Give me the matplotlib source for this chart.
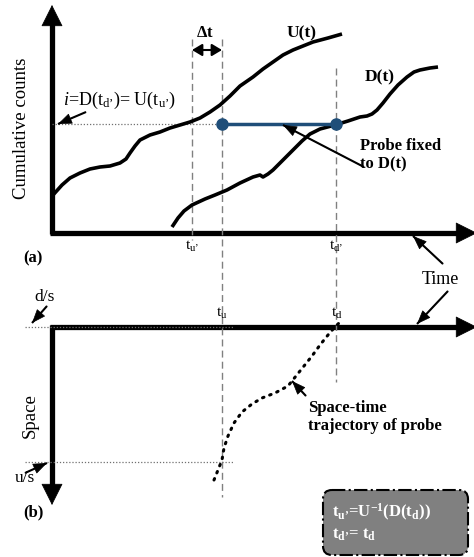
import matplotlib.pyplot as plt
from matplotlib.patches import FancyBboxPatch

plt.rcParams['font.family'] = ['Liberation Serif', 'DejaVu Serif']
plt.rcParams['mathtext.fontset'] = 'custom'
plt.rcParams['mathtext.rm'] = 'Liberation Serif'
plt.rcParams['mathtext.it'] = 'Liberation Serif:italic'
plt.rcParams['mathtext.bf'] = 'Liberation Serif:bold'

# curves (pixel coords, y down)
u_x = [53, 62, 70, 80, 90, 100, 110, 120, 126, 130, 135, 140, 150, 160, 170, 180, 190,
       200, 210, 220, 230, 240, 253, 263, 273, 283, 293, 303, 313, 328, 342]
u_y = [195, 185, 178, 173, 169, 167, 166, 163, 159, 153, 146, 140, 135, 132, 128, 125, 122,
       118, 112, 105, 96, 86, 77, 69, 62, 55, 50, 46, 42, 38, 34]

d_x = [172, 178, 184, 192, 205, 215, 227, 240, 253, 260, 263, 268, 273, 283, 293, 302, 310,
       320, 335, 348, 360, 367, 372, 377, 383, 390, 398, 407, 414, 420, 430, 438]
d_y = [227, 218, 211, 205, 199, 195, 190, 183, 177, 175, 177, 174, 170, 160, 150, 141, 134,
       129, 125, 121, 117, 116, 114, 110, 103, 94, 85, 77, 72, 70, 68, 67]

traj_x = [214, 218, 222, 224, 228, 234, 242, 252, 262, 275, 288, 296, 304, 312, 320, 328, 334, 340]
traj_y = [480, 470, 460, 448, 436, 423, 412, 404, 398, 393, 386, 376, 366, 356, 345, 335, 328, 322]

# probe position
t_u1, t_u, t_d = 192, 222, 336
probe_y = 124
space_d, space_u = 327, 462

fig = plt.figure(figsize=(4.74, 5.57), dpi=100)
ax = fig.add_axes([0, 0, 1, 1])
ax.set_xlim(0, 474)
ax.set_ylim(557, 0)
ax.axis('off')


def arrow(x0, y0, x1, y1, lw=1.5, hl=0.9, hw=0.35, ms=10, shaft=True):
    if shaft:
        ax.plot([x0, x1], [y0, y1], color='black', lw=lw, solid_capstyle='butt')
    ax.annotate('', xy=(x1, y1), xytext=(x0, y0), annotation_clip=False,
                arrowprops=dict(arrowstyle='-|>,head_length=%g,head_width=%g' % (hl, hw),
                                color='black', lw=0.5, shrinkA=0, shrinkB=0,
                                mutation_scale=ms))


# panel (a) axes
ax.plot([52, 52], [234, 20], color='black', lw=3.8, solid_capstyle='butt')
arrow(52, 40, 52, 5, ms=18, hl=0.8, hw=0.4, shaft=False)
ax.plot([50, 460], [233, 233], color='black', lw=3.8, solid_capstyle='butt')
arrow(440, 233, 477, 233, ms=18, hl=0.8, hw=0.4, shaft=False)

# panel (b) axes
ax.plot([50, 460], [327, 327], color='black', lw=3.8, solid_capstyle='butt')
arrow(440, 327, 477, 327, ms=18, hl=0.8, hw=0.4, shaft=False)
ax.plot([52, 52], [325, 488], color='black', lw=3.8, solid_capstyle='butt')
arrow(52, 470, 52, 505, ms=18, hl=0.8, hw=0.4, shaft=False)

# dashed verticals
ax.plot([t_u1, t_u1], [39, 240], color='#808080', lw=1, ls=(0, (5, 3)))
ax.plot([t_u, t_u], [39, 497], color='#808080', lw=1, ls=(0, (5, 3)))
ax.plot([t_d, t_d], [68, 382], color='#808080', lw=1, ls=(0, (5, 3)))

# dotted guides
ax.plot([52, t_u], [probe_y, probe_y], color='#707070', lw=0.9, ls=(0, (1, 1.5)))
ax.plot([25, 233], [space_d, space_d], color='#707070', lw=0.9, ls=(0, (1, 1.5)))
ax.plot([25, 233], [space_u, space_u], color='#707070', lw=0.9, ls=(0, (1, 1.5)))

# cumulative curves
ax.plot(u_x, u_y, color='black', lw=2.6, solid_capstyle='butt')
ax.plot(d_x, d_y, color='black', lw=2.6, solid_capstyle='butt')

# probe line
ax.plot([t_u, t_d], [probe_y, probe_y], color='#1f4e79', lw=2.5, marker='o', ms=8)

# trajectory
ax.plot(traj_x, traj_y, color='black', lw=2.2, ls=(0, (0.5, 2.0)), dash_capstyle='round')

# delta t
ax.annotate('', xy=(t_u, 50), xytext=(t_u1, 50),
            arrowprops=dict(arrowstyle='<|-|>,head_length=0.5,head_width=0.3', color='black',
                            lw=1.5, shrinkA=0, shrinkB=0, mutation_scale=12))
ax.text(205, 33, r'$\mathbf{\Delta}$t', ha='center', va='center', fontsize=12, fontweight='bold')

# labels
ax.text(22, 128, 'Cumulative counts', rotation=90, ha='center', va='center', fontsize=13.5)
ax.text(120, 100, r"$i$=D(t$_{\rm d’}$)= U(t$_{\rm u’}$)", ha='center', va='center', fontsize=13)
arrow(86, 112, 58, 124, lw=1.5)
ax.text(302, 33, 'U(t)', ha='center', va='center', fontsize=12.5, fontweight='bold')
ax.text(380, 77, 'D(t)', ha='center', va='center', fontsize=12.5, fontweight='bold')
ax.text(360, 155, 'Probe fixed\nto D(t)', ha='left', va='center', fontsize=12,
        fontweight='bold', linespacing=1.25)
arrow(364, 167, 283, 125, lw=1.5)

ax.text(t_u1, 246, r"t$_{\rm u’}$", ha='center', va='center', fontsize=11)
ax.text(t_d, 246, r"t$_{\rm d’}$", ha='center', va='center', fontsize=11)
ax.text(33, 258, '(a)', ha='center', va='center', fontsize=12, fontweight='bold')
ax.text(440, 279, 'Time', ha='center', va='center', fontsize=13)
arrow(443, 264, 413, 236, lw=1.5)
arrow(448, 291, 417, 324, lw=1.5)

ax.text(45, 297, 'd/s', ha='center', va='center', fontsize=12.5)
arrow(47, 306, 32, 323, lw=1.5)
ax.text(t_u, 313, r"t$_{\rm u}$", ha='center', va='center', fontsize=11)
ax.text(337, 313, r"t$_{\rm d}$", ha='center', va='center', fontsize=11)

ax.text(30, 416, 'Space', rotation=90, ha='center', va='center', fontsize=13.5)
ax.text(25, 478, 'u/s', ha='center', va='center', fontsize=12.5)
arrow(25, 473, 47, 463, lw=1.5)
ax.text(33, 512, '(b)', ha='center', va='center', fontsize=12, fontweight='bold')

ax.text(308, 417, 'Space-time\ntrajectory of probe', ha='left', va='center', fontsize=12,
        fontweight='bold', linespacing=1.1)
arrow(306, 396, 292, 381, lw=1.5)

# formula box
box = FancyBboxPatch((323, 490), 145, 65, boxstyle='round,pad=0,rounding_size=9',
                     facecolor='#808080', edgecolor='black', lw=1.5, ls='-.')
ax.add_patch(box)
ax.text(332, 512, r"t$_{\mathbf{u’}}$=U$^{\mathbf{-1}}$(D(t$_{\mathbf{d}}$))", ha='left', va='center',
        fontsize=12, color='white', fontweight='bold')
ax.text(332, 535, r"t$_{\mathbf{d’}}$= t$_{\mathbf{d}}$", ha='left', va='center',
        fontsize=12, color='white', fontweight='bold')

fig.savefig('out.png', dpi=100)
